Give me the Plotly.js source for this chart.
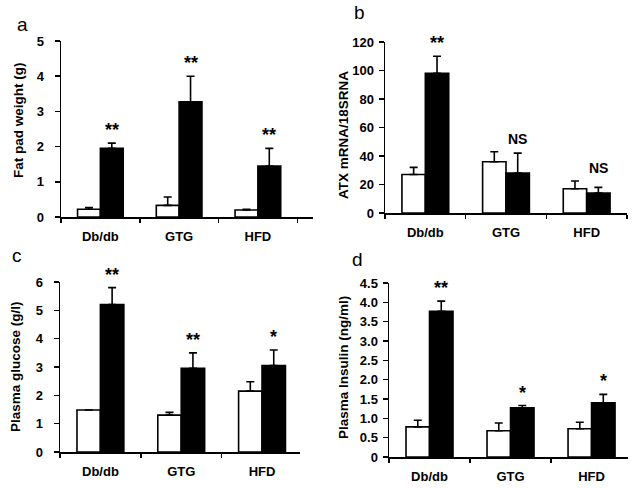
<!DOCTYPE html>
<html>
<head>
<meta charset="utf-8">
<script src="https://cdn.plot.ly/plotly-3.0.1.min.js"></script>
<style>html,body{margin:0;padding:0;background:#fff;}#chart{width:638px;height:488px;}</style>
</head>
<body>
<div id="chart"></div>
<script>
// ---- data ----
var categories = ['Db/db', 'GTG', 'HFD'];
var catIndex = [0, 1, 2];

// a: Fat pad weight (g)
var fatControl = [0.22, 0.33, 0.20];
var fatControlErr = [0.05, 0.24, 0.02];
var fatObese = [1.95, 3.27, 1.45];
var fatObeseErr = [0.15, 0.73, 0.50];
var fatSig = ['**', '**', '**'];
var fatTicks = [0, 1, 2, 3, 4, 5];
var fatTickText = ['0', '1', '2', '3', '4', '5'];

// b: ATX mRNA/18SRNA
var atxControl = [27, 36, 17];
var atxControlErr = [5, 7, 5.5];
var atxObese = [98, 28, 14];
var atxObeseErr = [12, 14, 4];
var atxSig = ['**', 'NS', 'NS'];
var atxTicks = [0, 20, 40, 60, 80, 100, 120];
var atxTickText = ['0', '20', '40', '60', '80', '100', '120'];

// c: Plasma glucose (g/l)
var gluControl = [1.48, 1.30, 2.15];
var gluControlErr = [0, 0.10, 0.33];
var gluObese = [5.20, 2.95, 3.05];
var gluObeseErr = [0.60, 0.55, 0.55];
var gluSig = ['**', '**', '*'];
var gluTicks = [0, 1, 2, 3, 4, 5, 6];
var gluTickText = ['0', '1', '2', '3', '4', '5', '6'];

// d: Plasma Insulin (ng/ml)
var insControl = [0.78, 0.68, 0.73];
var insControlErr = [0.17, 0.20, 0.17];
var insObese = [3.77, 1.27, 1.40];
var insObeseErr = [0.26, 0.06, 0.22];
var insSig = ['**', '*', '*'];
var insTicks = [0, 0.5, 1, 1.5, 2, 2.5, 3, 3.5, 4, 4.5];
var insTickText = ['0', '0.5', '1.0', '1.5', '2.0', '2.5', '3.0', '3.5', '4.0', '4.5'];

var panelLetters = ['a', 'b', 'c', 'd'];
var yTitles = ['Fat pad weight (g)', 'ATX mRNA/18SRNA', 'Plasma glucose (g/l)', 'Plasma Insulin (ng/ml)'];

// ---- layout helpers ----
var W = 638, H = 488;
var FONT = 'Arial, "Liberation Sans", sans-serif';
var BARGAP = 0.42;

function px(v) { return v / W; }
function py(v) { return 1 - v / H; }

var panels = [
  {ctrl: fatControl, ctrlErr: fatControlErr, ob: fatObese, obErr: fatObeseErr, sig: fatSig,
   tv: fatTicks, tt: fatTickText, yr: [0, 5], xd: [61, 313], yd: [217, 41], xr: [-0.5, 2.7],
   letter: [22, 24], title: [18, 120], ystand: 8},
  {ctrl: atxControl, ctrlErr: atxControlErr, ob: atxObese, obErr: atxObeseErr, sig: atxSig,
   tv: atxTicks, tt: atxTickText, yr: [0, 120], xd: [385, 627], yd: [213, 42], xr: [-0.5, 2.5],
   letter: [360, 12], title: [343, 135], ystand: 2},
  {ctrl: gluControl, ctrlErr: gluControlErr, ob: gluObese, obErr: gluObeseErr, sig: gluSig,
   tv: gluTicks, tt: gluTickText, yr: [0, 6], xd: [60, 300], yd: [452, 282], xr: [-0.5, 2.47],
   letter: [17, 255], title: [15, 367], ystand: 8},
  {ctrl: insControl, ctrlErr: insControlErr, ob: insObese, obErr: insObeseErr, sig: insSig,
   tv: insTicks, tt: insTickText, yr: [0, 4.5], xd: [389, 628], yd: [457, 283], xr: [-0.5, 2.45],
   letter: [357, 259], title: [343, 368], ystand: 2}
];

var traces = [];
var layout = {
  width: W, height: H,
  margin: {l: 0, r: 0, t: 0, b: 0},
  paper_bgcolor: 'white', plot_bgcolor: 'white',
  showlegend: false,
  barmode: 'group', bargap: BARGAP, bargroupgap: 0,
  font: {family: FONT, color: 'black'},
  annotations: []
};

var barHalf = (1 - BARGAP) / 4; // center offset of each bar within the group

panels.forEach(function (p, k) {
  var sfx = k === 0 ? '' : String(k + 1);
  var xa = 'x' + sfx, ya = 'y' + sfx;
  var zeros = p.ctrl.map(function () { return 0; });
  var lineStyle = {color: 'black', width: 1.6};

  traces.push({
    type: 'bar', x: catIndex, y: p.ctrl, xaxis: xa, yaxis: ya,
    marker: {color: 'white', line: lineStyle},
    error_y: {type: 'data', symmetric: false, array: p.ctrlErr, arrayminus: zeros,
              color: 'black', thickness: 1.6, width: 4},
    hoverinfo: 'skip'
  });
  traces.push({
    type: 'bar', x: catIndex, y: p.ob, xaxis: xa, yaxis: ya,
    marker: {color: 'black', line: lineStyle},
    error_y: {type: 'data', symmetric: false, array: p.obErr, arrayminus: zeros,
              color: 'black', thickness: 1.6, width: 4},
    hoverinfo: 'skip'
  });

  layout['xaxis' + sfx] = {
    domain: [px(p.xd[0]), px(p.xd[1])], range: p.xr, anchor: ya,
    showline: true, linecolor: 'black', linewidth: 1.5,
    tickmode: 'array', tickvals: catIndex, ticktext: categories, ticks: '',
    ticklabelstandoff: 7,
    tickfont: {family: FONT, size: 13, color: 'black', weight: 'bold'},
    minor: {tickmode: 'linear', tick0: -0.5, dtick: 1, ticks: 'outside', ticklen: 4,
            tickwidth: 1.5, tickcolor: 'black', showgrid: false},
    showgrid: false, zeroline: false, fixedrange: true
  };
  layout['yaxis' + sfx] = {
    domain: [py(p.yd[0]), py(p.yd[1])], range: p.yr, anchor: xa,
    showline: true, linecolor: 'black', linewidth: 1.5,
    tickmode: 'array', tickvals: p.tv, ticktext: p.tt,
    ticks: 'outside', ticklen: 5, tickwidth: 1.5, tickcolor: 'black',
    ticklabelstandoff: p.ystand,
    tickfont: {family: FONT, size: 13, color: 'black', weight: 'bold'},
    showgrid: false, zeroline: false, fixedrange: true
  };

  // significance marks
  p.sig.forEach(function (s, i) {
    var top = Math.max(p.ctrl[i] + p.ctrlErr[i], p.ob[i] + p.obErr[i]);
    var isNS = s === 'NS';
    layout.annotations.push({
      xref: xa, yref: ya, x: catIndex[i] + barHalf, y: top,
      text: s, showarrow: false, xanchor: 'center', yanchor: 'bottom',
      yshift: isNS ? 3 : 1,
      font: {family: FONT, size: isNS ? 14 : 18, color: 'black', weight: 'bold'}
    });
  });

  // panel letter
  layout.annotations.push({
    xref: 'paper', yref: 'paper', x: px(p.letter[0]), y: py(p.letter[1]),
    text: panelLetters[k], showarrow: false, xanchor: 'center', yanchor: 'middle',
    font: {family: FONT, size: 19, color: 'black'}
  });

  // y-axis title
  layout.annotations.push({
    xref: 'paper', yref: 'paper', x: px(p.title[0]), y: py(p.title[1]),
    text: yTitles[k], showarrow: false, textangle: -90,
    xanchor: 'center', yanchor: 'middle',
    font: {family: FONT, size: 13.5, color: 'black', weight: 'bold'}
  });
});

Plotly.newPlot('chart', traces, layout, {staticPlot: true, displayModeBar: false});
</script>
</body>
</html>
